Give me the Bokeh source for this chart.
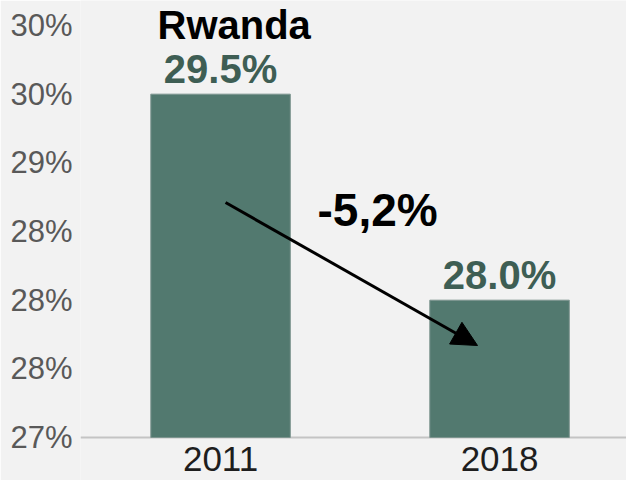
import numpy as np
from bokeh.plotting import figure
from bokeh.models import (ColumnDataSource, Range1d, FixedTicker, Span, Label,
                          Arrow, NormalHead)
from bokeh.core.properties import value
from bokeh.embed import file_html
from bokeh.resources import INLINE

# ---- data ----
title_text = "Rwanda"
years = ["2011", "2018"]
values = [29.5, 28.0]
value_labels = ["29.5%", "28.0%"]
change_label = "-5,2%"
y_ticks = [27.0, 27.5, 28.0, 28.5, 29.0, 29.5, 30.0]
y_tick_labels = ["27%", "28%", "28%", "28%", "29%", "30%", "30%"]

FONT = "Liberation Sans"
BG = "#f2f2f2"
BAR = "#52796f"

xpos = list(np.arange(len(years)) + 0.5)
src = ColumnDataSource(dict(x=xpos, top=values, year=years, lab=value_labels,
                            base=[y_ticks[0]] * len(years)))

p = figure(width=626, height=480, output_backend="svg", toolbar_location=None,
           x_range=Range1d(-0.002, 1.955), y_range=Range1d(26.687, 30.182),
           min_border_left=80, min_border_right=0, min_border_top=0,
           min_border_bottom=0)
p.background_fill_color = BG
p.border_fill_color = BG
p.outline_line_color = None
p.grid.visible = False
p.xaxis.visible = False

ya = p.yaxis[0]
ya.ticker = FixedTicker(ticks=y_ticks)
ya.major_label_overrides = {t: l for t, l in zip(y_ticks, y_tick_labels)}
ya.axis_line_color = None
ya.major_tick_line_color = None
ya.minor_tick_line_color = None
ya.major_tick_out = 0
ya.major_tick_in = 0
ya.major_label_standoff = 8
ya.major_label_text_font = FONT
ya.major_label_text_font_size = "31px"
ya.major_label_text_color = "#595959"

base = Span(location=y_ticks[0], dimension="width", line_color="#c4c4c4",
            line_width=2, level="underlay")
p.add_layout(base)

p.vbar(x="x", top="top", bottom="base", width=0.5, source=src,
       fill_color=BAR, line_color="#7d958f", line_width=1)

p.text(x="x", y="top", text="lab", source=src, text_align="center",
       text_baseline="alphabetic", y_offset=-25,
       text_font=value(FONT), text_font_size="40px", text_font_style="bold",
       text_color="#3e5e54")

p.text(x="x", y="base", text="year", source=src, text_align="center",
       text_baseline="alphabetic", y_offset=21,
       text_font=value(FONT), text_font_size="35px", text_color="#1e1e1e")

arrow = Arrow(x_start=0.518, y_start=28.711, x_end=1.421, y_end=27.670,
              line_color="black", line_width=3,
              end=NormalHead(size=25, fill_color="black", line_color="black"))
p.add_layout(arrow)

p.add_layout(Label(x=1.063, y=28.66, text=change_label, text_align="center",
                   text_baseline="alphabetic", text_font=FONT,
                   text_font_size="46px", text_font_style="bold",
                   text_color="black"))

p.add_layout(Label(x=77, y=478, x_units="screen", y_units="screen",
                   text=title_text, text_align="left",
                   text_baseline="top", text_font=FONT,
                   text_font_size="40px", text_font_style="bold",
                   text_color="black"))

open("out.html", "w").write(file_html(p, INLINE))
